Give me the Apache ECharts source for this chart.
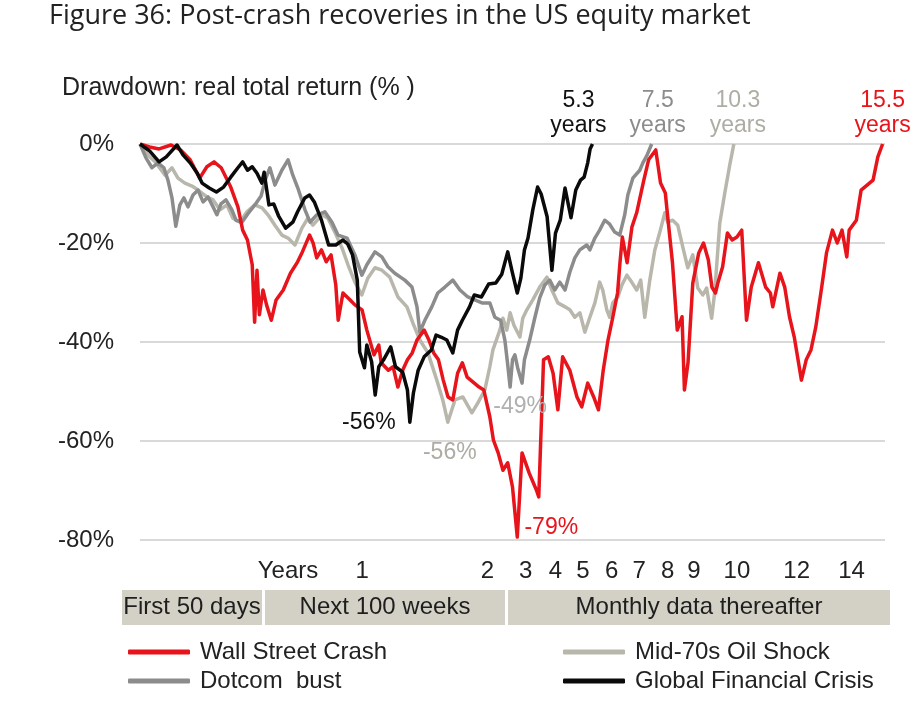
<!DOCTYPE html>
<html><head><meta charset="utf-8">
<script src="https://cdn.jsdelivr.net/npm/echarts@6/dist/echarts.min.js"></script>
<style>html,body{margin:0;padding:0;background:#fff}#c{width:921px;height:717px}</style>
</head><body><div id="c"></div>
<script>
// x = period index: 0-50 trading days, then 100 weeks, then months
const seriesNames = ['Wall Street Crash', 'Dotcom  bust', 'Mid-70s Oil Shock', 'Global Financial Crisis'];
const recoveryYears = [15.5, 7.5, 10.3, 5.3];
const tickLabels = ['Years','1','2','3','4','5','6','7','8','9','10','12','14'];
const tickPos = [62, 93, 145.5, 161.5, 174, 185.5, 197.5, 209, 221, 232, 250, 275, 298];
const bandLabels = ['First 50 days', 'Next 100 weeks', 'Monthly data thereafter'];

const wallStreetCrash = [[0,0],[4,-0.6],[8,-1],[13,-0.2],[17,-1.2],[21,-3.2],[25,-6.9],[28,-4.6],[31,-3.6],[34,-4.8],[38,-8.7],[41,-12.7],[43,-17.4],[45,-19.4],[47,-24.4],[48,-36],[49,-25.5],[50,-34.5],[51.5,-29.5],[53,-32.5],[55,-35.6],[57,-31.5],[60,-29.5],[63,-26.1],[66,-23.8],[68,-21.8],[71,-18.4],[72.5,-20],[74,-23],[76,-21.4],[78,-23.8],[80,-22.4],[82,-28.5],[83,-35.6],[85,-30.1],[88,-31.5],[90,-32.5],[93,-33.5],[95,-37.6],[98,-42.6],[100,-40.6],[101,-44.2],[104,-45.7],[106,-45],[108,-49.1],[110,-45.7],[112,-43.6],[114,-42.2],[116,-39.6],[119,-37.6],[121,-39.6],[123,-42.2],[125,-43.6],[127,-47.7],[129,-51.1],[131,-51.7],[133,-46.3],[135,-44.2],[137,-47.1],[140,-48.3],[142,-49.1],[144,-49.7],[146.5,-55.1],[148,-59.8],[150,-62.4],[152,-65.9],[154,-64.4],[156,-69.3],[158,-79.4],[160,-62.4],[163,-66.5],[166,-69.9],[167,-71.3],[169,-43.6],[171,-43],[173,-46.3],[175,-53.7],[177,-43],[180,-45.7],[183,-51.1],[185,-53.1],[187.5,-48.3],[190,-51.1],[192,-53.7],[194,-45.7],[196,-39.6],[198,-35],[200,-30.1],[201,-24],[202,-18.8],[204,-24],[206,-16.8],[208,-13.9],[211,-7.3],[213,-3.2],[216,-1.2],[218,-7.9],[220,-9.9],[221,-14.7],[223,-24],[225,-37.6],[227,-34.9],[228,-49.7],[229.5,-44.2],[231.5,-28.1],[234,-22],[236,-20],[238,-23.4],[239.5,-28.9],[241,-30.1],[242,-28.1],[244,-24.8],[246,-18],[248,-19.4],[250,-18.8],[252,-17.4],[254,-35.6],[256,-28.9],[259,-24],[262,-28.9],[264,-30.1],[265,-32.9],[268,-26.1],[270,-28.9],[272,-34.9],[274,-39],[277,-47.7],[279,-43.6],[281,-41.6],[283,-37],[285.5,-28.9],[287.5,-22],[290,-17.4],[292,-20],[294,-17.4],[296,-22.8],[297,-17.4],[300,-15.4],[302,-9.3],[305.5,-7.9],[307,-7.3],[309,-2.6],[311,0]];

const dotcomBust = [[0,0],[2.5,-2.8],[5,-4.8],[7.5,-3.8],[10,-4.8],[11.7,-7.3],[13.4,-10.9],[15,-16.6],[16.7,-12.3],[18.4,-10.9],[20.1,-12.7],[22.2,-10.3],[24.3,-9.3],[26.4,-11.7],[28.5,-10.7],[30.6,-12.7],[32.2,-14.3],[33.9,-12.1],[36,-11.3],[38.5,-13.3],[40.2,-15.4],[42.7,-15.8],[45.2,-14.1],[48.1,-12.3],[50.7,-10.5],[52.7,-6.9],[54.4,-4.8],[56.5,-8.3],[59.4,-5.3],[62,-3.2],[64,-6.3],[66.1,-8.9],[69.1,-13.3],[71.2,-15.8],[74.1,-14.3],[77.4,-13.7],[80.4,-15.8],[82.9,-18.4],[86.7,-19],[90,-22.4],[92.9,-26.5],[95,-24.4],[98.4,-21.8],[101.3,-22.8],[103.8,-24.8],[106.7,-26.1],[110.9,-27.5],[113.9,-28.9],[116,-32.9],[117.2,-38],[119.3,-35.6],[122.2,-32.9],[124.7,-30.1],[127.7,-28.9],[131,-27.5],[134,-29.5],[137.3,-30.9],[140.2,-31.5],[143.2,-32.1],[146.5,-32.1],[148.6,-35],[151,-35.6],[152.8,-39.6],[154,-44.6],[155,-49.1],[156,-43.6],[157,-42.6],[158.2,-45.3],[160,-48.3],[161,-43.6],[163.2,-39.6],[165.3,-35.2],[167.4,-31.1],[169.5,-28.5],[171.6,-27.5],[173.7,-29.5],[175.8,-27.9],[178,-29.5],[180,-25.9],[182.1,-23],[184.2,-21.4],[187.1,-20.4],[188.4,-21.4],[190.5,-19],[192.5,-17.4],[194.6,-15.4],[196.7,-16.2],[198.8,-17.8],[200.9,-18.4],[203,-14.3],[204.3,-10.3],[206.4,-6.9],[209.3,-5.3],[210.6,-3.8],[212.2,-2.4],[214.3,0]];

const oilShock = [[0,0],[3.3,-2.2],[6.3,-3.6],[10.5,-6.3],[13.4,-4.8],[15.9,-6.9],[18.8,-7.9],[21.8,-8.5],[24.3,-9.3],[28,-10.7],[30.6,-11.3],[33.5,-13.3],[36.4,-12.3],[38.9,-15],[41.9,-15.8],[44.8,-13.7],[48.1,-12.3],[51.1,-12.9],[53.6,-14.3],[56.5,-16.4],[59.4,-18.4],[62,-19],[64.9,-20.4],[67.8,-17],[70.3,-15],[72.4,-16.4],[76.2,-14.3],[78.7,-15],[81.6,-17.8],[84.6,-21],[87.1,-24.4],[90,-27.9],[92.9,-30.5],[95.4,-27.1],[98.4,-25],[101.3,-25.5],[104.6,-26.9],[108,-30.9],[111.8,-32.9],[114.3,-36.2],[117.2,-39.6],[120.6,-42.2],[124.3,-47.7],[126.8,-51.7],[128.9,-56.2],[131.9,-51.7],[135.2,-51.1],[139,-54.3],[141.5,-52.3],[144.4,-49.7],[146.5,-45],[147.8,-41.6],[150.7,-37.6],[152,-35.2],[153.6,-37.6],[155,-34.1],[156.6,-36.6],[159.1,-39],[160.3,-35.2],[162,-33.5],[164.5,-31.5],[167.4,-28.9],[170.4,-26.9],[172.5,-29.5],[175,-32.1],[178,-32.9],[180,-33.5],[182.1,-35],[184.2,-34.1],[186.3,-38],[188.4,-35],[190.5,-32.1],[192.5,-27.9],[193.8,-29.5],[195.5,-33.5],[196.7,-35],[198,-32.1],[200.1,-30.9],[201.8,-28.5],[203.9,-26.5],[205.9,-27.9],[208,-29.5],[209.7,-27.5],[211.4,-35],[213.5,-27.5],[215.6,-21.4],[217.7,-17.8],[219.8,-13.9],[221,-15.8],[223.1,-15.4],[225.2,-16.4],[227.3,-20.8],[229.4,-25],[231.5,-22.4],[233.6,-29.1],[235.7,-30.5],[237.3,-29.1],[239.4,-35.2],[240.7,-29.9],[242.8,-16],[244.9,-9.9],[247,-4.2],[248.7,0]];

const financialCrisis = [[0,0],[4,-1.4],[8,-3.6],[11,-2.6],[15.5,-0.2],[18,-2.2],[21,-3.8],[24,-5.9],[26,-7.9],[29,-8.9],[32,-9.7],[35,-8.7],[38,-6.7],[41,-4.8],[43,-3.6],[45,-5.3],[47,-4.6],[49,-5.9],[51,-7.9],[52,-5.7],[54,-12.3],[56,-12.1],[58,-14.5],[61,-17],[64,-15.8],[66,-13.7],[69,-10.9],[71,-10.3],[73,-11.7],[76,-15.4],[79,-20.4],[82,-20.4],[85,-19.4],[87,-20.2],[89,-22.4],[91,-27.5],[92,-42],[94,-45.2],[95,-40.6],[97,-44],[98.5,-50.7],[100,-45],[102,-43.6],[105,-41],[107,-45],[110,-46.1],[112,-49.7],[113,-56.2],[114.5,-50.3],[116.5,-45.7],[119,-43],[122,-41.6],[124,-38.6],[126,-39],[128.5,-39.6],[131,-42.2],[133,-37.6],[135,-35.6],[138,-32.9],[140,-30.5],[143,-30.9],[146,-28.3],[149,-28.1],[151.5,-26.3],[154,-21.8],[156,-26.1],[158,-30.1],[159.5,-27.1],[161,-21.4],[162.5,-19],[164.5,-13.3],[166.5,-8.7],[168,-10.1],[170.5,-14.7],[172.5,-25.5],[174,-18],[176,-15.4],[178,-8.9],[180.5,-14.9],[182.5,-9.3],[184.5,-7.3],[186,-6.7],[187.5,-3.8],[188.5,-1],[189.5,0]];

const seriesData = [wallStreetCrash, dotcomBust, oilShock, financialCrisis];
const colors = ['#e8141c', '#8c8c8c', '#b9b7ac', '#0a0a0a'];
const labelColors = ['#e8141c', '#8c8c8c', '#aeaca3', '#111111'];
const troughColors = ['#e8141c', '#b0b0b0', '#aeaca3', '#111111'];
const troughOffsets = [[34,-9],[10,20],[2,30],[-41,0]];
const endOffsets = [[0,-31],[6,-31],[4,-31],[-14,-31]];

const NARROW = "'Liberation Sans Narrow','Arial Narrow','Liberation Sans',Arial,sans-serif";
const SANS = "'Liberation Sans',Arial,sans-serif";

const chart = echarts.init(document.getElementById('c'), null, {renderer:'canvas'});

const series = [2,1,0,3].map(i => ({
  type:'line', name: seriesNames[i], data: seriesData[i],
  symbol:'none', showSymbol:false, animation:false,
  lineStyle:{width:3.5, color: colors[i], join:'round'},
  itemStyle:{color: colors[i]},
  markPoint:{
    symbol:'circle', symbolSize:1, animation:false,
    itemStyle:{color:'rgba(0,0,0,0)'},
    label:{show:true, position:'inside', fontFamily:SANS, fontSize:23, color:labelColors[i]},
    data:[
      {type:'min', valueDim:'y', label:{formatter: p => Math.round(p.value) + '%', offset: troughOffsets[i], color: troughColors[i]}},
      {type:'max', valueDim:'x', label:{formatter: () => recoveryYears[i] + '\nyears', lineHeight:25, offset: endOffsets[i]}}
    ]
  }
}));

const bands = [[122,140],[265,240],[508,382]];
const graphic = [];
bands.forEach((b, k) => {
  graphic.push({type:'rect', shape:{x:b[0], y:590, width:b[1], height:35}, style:{fill:'#d3d1c5'}, silent:true});
  graphic.push({type:'text', x:b[0]+b[1]/2, y:607.5, style:{text:bandLabels[k], fontSize:24, fontFamily:NARROW, fill:'#1e1e1e', align:'center', verticalAlign:'middle'}, silent:true});
});

chart.setOption({
  animation:false,
  backgroundColor:'#fff',
  title:[
    {text:'Figure 36: Post-crash recoveries in the US equity market', left:49, top:3, padding:0,
     textStyle:{fontSize:27, fontWeight:'normal', fontFamily:"'Open Sans',sans-serif", color:'#222'}},
    {text:'Drawdown: real total return (% )', left:62, top:76, padding:0,
     textStyle:{fontSize:25, fontWeight:'normal', fontFamily:SANS, color:'#222'}}
  ],
  grid:{left:140, right:36, top:144, bottom:177},
  xAxis:{type:'value', min:0, max:312,
    axisLine:{show:false}, axisTick:{show:false}, splitLine:{show:false},
    axisLabel:{customValues: tickPos, margin:19, fontSize:24, fontFamily:NARROW, color:'#222',
      formatter: v => { const k = tickPos.findIndex(t => Math.abs(t - v) < 1e-6); return k >= 0 ? tickLabels[k] : ''; }}
  },
  yAxis:{type:'value', min:-80, max:0, interval:20,
    axisLine:{show:false}, axisTick:{show:false},
    splitLine:{lineStyle:{color:'#d9d9d9', width:2}},
    axisLabel:{formatter:'{value}%', margin:26, fontSize:24, fontFamily:SANS, color:'#222'}
  },
  legend:[
    {left:128, top:640, padding:0, orient:'vertical', itemWidth:62, itemHeight:5, itemGap:5, icon:'roundRect',
     data:[seriesNames[0], seriesNames[1]], textStyle:{fontSize:24, fontFamily:NARROW, color:'#222', padding:[0,0,0,5]}},
    {left:563, top:640, padding:0, orient:'vertical', itemWidth:62, itemHeight:5, itemGap:5, icon:'roundRect',
     data:[seriesNames[2], seriesNames[3]], textStyle:{fontSize:24, fontFamily:NARROW, color:'#222', padding:[0,0,0,5]}}
  ],
  graphic: graphic,
  series: series
});
</script></body></html>
